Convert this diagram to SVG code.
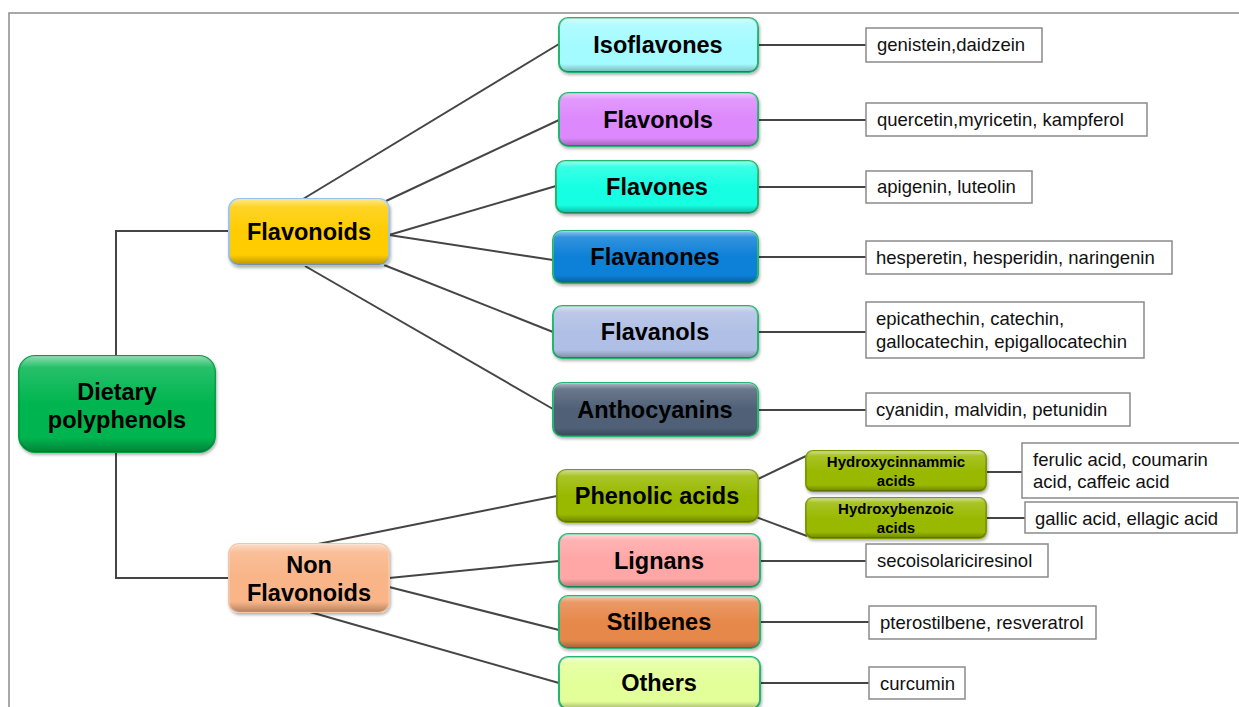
<svg xmlns="http://www.w3.org/2000/svg" width="1239" height="707" viewBox="0 0 1239 707">
<defs>
<linearGradient id="gl" x1="0" y1="0" x2="0" y2="1">
<stop offset="0" stop-color="#fff" stop-opacity="0.55"/>
<stop offset="0.12" stop-color="#fff" stop-opacity="0.15"/>
<stop offset="0.5" stop-color="#fff" stop-opacity="0"/>
<stop offset="0.85" stop-color="#000" stop-opacity="0"/>
<stop offset="1" stop-color="#000" stop-opacity="0.28"/>
</linearGradient>
<filter id="sh" x="-10%" y="-10%" width="120%" height="130%">
<feDropShadow dx="1" dy="2" stdDeviation="1.5" flood-color="#000" flood-opacity="0.3"/>
</filter>
</defs>
<style>
.b{stroke-width:2;filter:url(#sh)}
.ov{fill:url(#gl);stroke:none}
.t{font-family:"Liberation Sans",Arial,sans-serif;font-weight:bold;font-size:23.5px;text-anchor:middle;fill:#000}
.s{font-family:"Liberation Sans",Arial,sans-serif;font-weight:bold;font-size:15px;text-anchor:middle;fill:#000}
.l{font-family:"Liberation Sans",Arial,sans-serif;font-size:18.5px;fill:#111}
.lb{fill:#fff;stroke:#8a8a8a;stroke-width:1.5}
.c{stroke:#454545;stroke-width:2;fill:none}
.fr{stroke:#8c8c8c;stroke-width:1.5;fill:none}
.g{stroke:#22b573}
</style>
<rect width="1239" height="707" fill="#fff"/>
<path class="fr" d="M9,707 V13 H1239"/>

<g id="connectors">
<path class="c" d="M116,356 V231 H229"/>
<path class="c" d="M116,452 V578 H229"/>
<line class="c" x1="303" y1="199" x2="559" y2="44"/>
<line class="c" x1="386" y1="201" x2="559" y2="120"/>
<line class="c" x1="389" y1="235" x2="556" y2="186"/>
<line class="c" x1="389" y1="235" x2="553" y2="260"/>
<line class="c" x1="384" y1="265" x2="553" y2="332"/>
<line class="c" x1="305" y1="266" x2="553" y2="409"/>
<line class="c" x1="318" y1="544" x2="557" y2="496"/>
<line class="c" x1="389" y1="578" x2="559" y2="561"/>
<line class="c" x1="389" y1="587" x2="559" y2="630"/>
<line class="c" x1="310" y1="612" x2="559" y2="683"/>
<line class="c" x1="756" y1="480" x2="806" y2="456"/>
<line class="c" x1="756" y1="517" x2="807" y2="536"/>
<line class="c" x1="986" y1="472" x2="1022" y2="472"/>
<line class="c" x1="986" y1="518" x2="1025" y2="518"/>
<line class="c" x1="758" y1="45" x2="866" y2="45"/>
<line class="c" x1="758" y1="120" x2="866" y2="120"/>
<line class="c" x1="758" y1="187" x2="866" y2="187"/>
<line class="c" x1="758" y1="257" x2="866" y2="257"/>
<line class="c" x1="758" y1="332" x2="866" y2="332"/>
<line class="c" x1="758" y1="410" x2="866" y2="410"/>
<line class="c" x1="760" y1="561" x2="866" y2="561"/>
<line class="c" x1="760" y1="622" x2="869" y2="622"/>
<line class="c" x1="760" y1="683" x2="869" y2="683"/>
</g>

<g id="dietary">
<rect class="b" x="19" y="356" width="196" height="96" rx="16" fill="#00b550" stroke="#00a046"/>
<rect class="ov" x="19" y="356" width="196" height="96" rx="16"/>
<text class="t" x="117" y="400">Dietary</text>
<text class="t" x="117" y="428">polyphenols</text>
</g>

<g id="flavonoids">
<rect class="b" x="229" y="199" width="160" height="66" rx="10" fill="#ffcc00" stroke="#9dc3e6"/>
<rect class="ov" x="229" y="199" width="160" height="66" rx="10"/>
<text class="t" x="309" y="240">Flavonoids</text>
</g>

<g id="nonflavonoids">
<rect class="b" x="229" y="544" width="160" height="68" rx="10" fill="#f9b487" stroke="#f3c5a4"/>
<rect class="ov" x="229" y="544" width="160" height="68" rx="10"/>
<text class="t" x="309" y="573">Non</text>
<text class="t" x="309" y="601">Flavonoids</text>
</g>

<g id="isoflavones">
<rect class="b g" x="559" y="18" width="199" height="54" rx="9" fill="#a4fbff"/>
<rect class="ov" x="559" y="18" width="199" height="54" rx="9"/>
<text class="t" x="658" y="53">Isoflavones</text>
</g>

<g id="flavonols">
<rect class="b g" x="559" y="93" width="199" height="53" rx="9" fill="#dd88fc"/>
<rect class="ov" x="559" y="93" width="199" height="53" rx="9"/>
<text class="t" x="658" y="128">Flavonols</text>
</g>

<g id="flavones">
<rect class="b g" x="556" y="161" width="202" height="52" rx="9" fill="#14ffe2"/>
<rect class="ov" x="556" y="161" width="202" height="52" rx="9"/>
<text class="t" x="657" y="195">Flavones</text>
</g>

<g id="flavanones">
<rect class="b g" x="553" y="231" width="205" height="52" rx="9" fill="#0a80d8"/>
<rect class="ov" x="553" y="231" width="205" height="52" rx="9"/>
<text class="t" x="655" y="265">Flavanones</text>
</g>

<g id="flavanols">
<rect class="b g" x="553" y="306" width="205" height="52" rx="9" fill="#b0bfe5"/>
<rect class="ov" x="553" y="306" width="205" height="52" rx="9"/>
<text class="t" x="655" y="340">Flavanols</text>
</g>

<g id="anthocyanins">
<rect class="b g" x="553" y="383" width="205" height="53" rx="9" fill="#4f6177"/>
<rect class="ov" x="553" y="383" width="205" height="53" rx="9"/>
<text class="t" x="655" y="418">Anthocyanins</text>
</g>

<g id="phenolic">
<rect class="b" x="557" y="470" width="201" height="52" rx="9" fill="#99b900" stroke="#7f9a00"/>
<rect class="ov" x="557" y="470" width="201" height="52" rx="9"/>
<text class="t" x="657" y="504">Phenolic acids</text>
</g>

<g id="hydroxycinnammic">
<rect class="b" x="806" y="451" width="180" height="40" rx="7" fill="#99b900" stroke="#7f9a00"/>
<rect class="ov" x="806" y="451" width="180" height="40" rx="7"/>
<text class="s" x="896" y="467">Hydroxycinnammic</text>
<text class="s" x="896" y="486">acids</text>
</g>

<g id="hydroxybenzoic">
<rect class="b" x="806" y="498" width="180" height="40" rx="7" fill="#99b900" stroke="#7f9a00"/>
<rect class="ov" x="806" y="498" width="180" height="40" rx="7"/>
<text class="s" x="896" y="514">Hydroxybenzoic</text>
<text class="s" x="896" y="533">acids</text>
</g>

<g id="lignans">
<rect class="b g" x="559" y="534" width="201" height="53" rx="9" fill="#ffa6a6"/>
<rect class="ov" x="559" y="534" width="201" height="53" rx="9"/>
<text class="t" x="659" y="569">Lignans</text>
</g>

<g id="stilbenes">
<rect class="b g" x="559" y="596" width="201" height="52" rx="9" fill="#e7884b"/>
<rect class="ov" x="559" y="596" width="201" height="52" rx="9"/>
<text class="t" x="659" y="630">Stilbenes</text>
</g>

<g id="others">
<rect class="b g" x="559" y="657" width="201" height="52" rx="9" fill="#e3ff99"/>
<rect class="ov" x="559" y="657" width="201" height="52" rx="9"/>
<text class="t" x="659" y="691">Others</text>
</g>

<g id="l-isoflavones">
<rect class="lb" x="866" y="28" width="176" height="34"/>
<text class="l" x="877" y="51">genistein,daidzein</text>
</g>
<g id="l-flavonols">
<rect class="lb" x="866" y="103" width="281" height="33"/>
<text class="l" x="877" y="126">quercetin,myricetin, kampferol</text>
</g>
<g id="l-flavones">
<rect class="lb" x="866" y="171" width="166" height="32"/>
<text class="l" x="877" y="193">apigenin, luteolin</text>
</g>
<g id="l-flavanones">
<rect class="lb" x="866" y="241" width="306" height="33"/>
<text class="l" x="876" y="264">hesperetin, hesperidin, naringenin</text>
</g>
<g id="l-flavanols">
<rect class="lb" x="866" y="302" width="278" height="56"/>
<text class="l" x="876" y="325">epicathechin, catechin,</text>
<text class="l" x="876" y="348">gallocatechin, epigallocatechin</text>
</g>
<g id="l-anthocyanins">
<rect class="lb" x="866" y="393" width="264" height="33"/>
<text class="l" x="876" y="416">cyanidin, malvidin, petunidin</text>
</g>
<g id="l-hydroxycinnammic">
<rect class="lb" x="1022" y="443" width="220" height="55"/>
<text class="l" x="1033" y="466">ferulic acid, coumarin</text>
<text class="l" x="1033" y="488">acid, caffeic acid</text>
</g>
<g id="l-hydroxybenzoic">
<rect class="lb" x="1025" y="502" width="212" height="31"/>
<text class="l" x="1035" y="525">gallic acid, ellagic acid</text>
</g>
<g id="l-lignans">
<rect class="lb" x="866" y="544" width="182" height="33"/>
<text class="l" x="877" y="567">secoisolariciresinol</text>
</g>
<g id="l-stilbenes">
<rect class="lb" x="869" y="606" width="227" height="33"/>
<text class="l" x="880" y="629">pterostilbene, resveratrol</text>
</g>
<g id="l-others">
<rect class="lb" x="869" y="667" width="96" height="32"/>
<text class="l" x="880" y="690">curcumin</text>
</g>
</svg>
